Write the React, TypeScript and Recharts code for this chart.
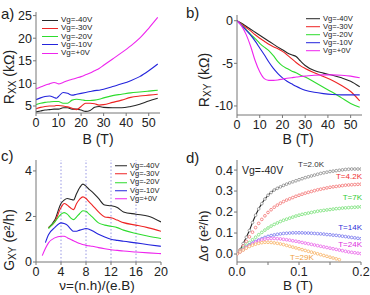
import React from "react";
import { LineChart, Line, XAxis, YAxis, ReferenceLine } from "recharts";

const FONT = "'Liberation Sans', Arial, sans-serif";
const FRAME = "#777";
const TICK = { fontSize: 12.5, fill: "#222", fontFamily: FONT };

const VG_LABELS = ["Vg=-40V", "Vg=-30V", "Vg=-20V", "Vg=-10V", "Vg=+0V"];
const VG_COLORS = ["#262626", "#ee2424", "#2edc2e", "#2424dc", "#ee24ee"];

// a) Rxx vs B
const A_B = [0, 2, 4, 6, 8, 9, 10, 12, 14, 16, 18, 20, 22, 24, 26, 28, 30, 34, 38, 42, 46, 50, 54];
const A_M40 = [3.7, 3.9, 4.1, 4.2, 4.3, 4.3, 4.3, 4.6, 4.6, 4.3, 4.3, 4.1, 3.8, 4.0, 4.7, 4.9, 4.7, 4.6, 4.6, 4.9, 5.4, 6.1, 6.7];
const A_M30 = [4.4, 4.7, 4.9, 5.0, 5.0, 5.1, 5.1, 5.0, 4.8, 4.5, 4.2, 4.9, 5.6, 5.6, 5.5, 5.2, 5.3, 5.8, 6.3, 6.9, 7.2, 7.4, 7.6];
const A_M20 = [5.3, 5.6, 5.8, 5.9, 6.0, 6.0, 6.0, 5.6, 5.6, 6.3, 6.5, 6.4, 6.2, 6.2, 6.3, 6.5, 6.8, 7.3, 7.6, 7.9, 8.1, 8.3, 8.5];
const A_M10 = [6.4, 6.8, 7.1, 7.2, 6.9, 6.7, 7.1, 8.0, 7.8, 7.4, 7.6, 7.8, 8.0, 8.2, 8.4, 8.5, 8.7, 9.3, 9.9, 10.6, 11.5, 12.8, 14.3];
const A_P0 = [8.8, 9.2, 9.6, 9.9, 10.2, 10.1, 9.9, 10.2, 10.6, 10.9, 11.2, 11.5, 11.9, 12.3, 12.8, 13.3, 14.0, 15.4, 16.8, 18.3, 20.0, 22.2, 24.6];

// b) Rxy vs B
const B_B = [0, 2, 4, 6, 8, 10, 12, 14, 16, 18, 20, 22, 24, 26, 28, 30, 34, 38, 42, 46, 50, 54];
const B_M40 = [0, -0.3, -0.65, -1.0, -1.35, -1.7, -2.05, -2.4, -2.75, -3.1, -3.4, -3.75, -4.0, -4.2, -4.75, -5.25, -5.85, -6.15, -6.4, -6.7, -7.1, -7.75];
const B_M30 = [0, -0.4, -0.8, -1.2, -1.65, -2.05, -2.4, -2.75, -3.05, -3.3, -3.6, -4.0, -4.45, -4.9, -5.3, -5.6, -6.1, -6.55, -7.0, -7.6, -8.3, -9.4];
const B_M20 = [0, -0.5, -1.05, -1.6, -2.1, -2.65, -3.1, -3.5, -4.1, -4.8, -5.3, -5.6, -5.9, -6.1, -6.4, -6.6, -7.2, -7.8, -8.4, -9.05, -9.7, -10.15];
const B_M10 = [0, -0.55, -1.1, -1.7, -2.4, -3.2, -4.0, -4.85, -5.6, -6.2, -6.7, -7.1, -7.4, -7.7, -7.95, -8.15, -8.4, -8.55, -8.65, -8.7, -8.7, -8.7];
const B_P0 = [0, -0.6, -1.6, -3.0, -4.7, -6.0, -6.8, -7.0, -7.0, -6.95, -6.85, -6.75, -6.7, -6.6, -6.55, -6.5, -6.4, -6.35, -6.35, -6.4, -6.5, -6.7];

// c) Gxy vs filling factor
const C_NU = [1, 1.5, 2, 3, 4, 4.5, 5, 5.5, 6, 6.5, 7, 7.5, 8, 8.5, 9, 10, 11, 12, 13, 14, 16, 18, 20];
const C_M40 = [null, null, 1.51, 1.84, 2.57, 2.72, 2.79, 2.76, 2.72, 3.01, 3.27, 3.42, 3.33, 3.19, 3.08, 2.79, 2.5, 2.47, 2.39, 2.2, 2.1, 2.01, 1.76];
const C_M30 = [null, null, 1.51, 1.76, 2.39, 2.57, 2.5, 2.38, 2.3, 2.57, 2.76, 2.86, 2.79, 2.64, 2.5, 2.2, 1.98, 1.94, 1.84, 1.73, 1.62, 1.5, 1.35];
const C_M20 = [null, null, 1.47, 1.76, 2.1, 2.17, 2.1, 1.95, 1.86, 1.98, 2.13, 2.25, 2.23, 2.1, 1.98, 1.72, 1.62, 1.57, 1.51, 1.4, 1.25, 1.13, 1.03];
const C_M10 = [null, 0.85, 1.2, 1.51, 1.72, 1.69, 1.62, 1.47, 1.35, 1.35, 1.4, 1.44, 1.47, 1.44, 1.37, 1.22, 1.1, 1.0, 0.95, 0.91, 0.84, 0.76, 0.69];
const C_P0 = [0.28, 0.59, 0.84, 1.06, 1.13, 1.13, 1.07, 1.0, 0.93, 0.87, 0.81, 0.77, 0.73, 0.71, 0.69, 0.63, 0.58, 0.54, 0.51, 0.48, 0.44, 0.4, 0.37];
const C_GUIDES = [4, 8, 12, 16];

// d) magnetoconductance at Vg=-40V
const D_B = [0, 0.005, 0.01, 0.015, 0.02, 0.025, 0.03, 0.035, 0.04, 0.045, 0.05, 0.055, 0.06, 0.065, 0.07, 0.075, 0.08, 0.085, 0.09, 0.095, 0.1, 0.105, 0.11, 0.115, 0.12, 0.125, 0.13, 0.135, 0.14, 0.145, 0.15, 0.155, 0.16, 0.165, 0.17, 0.175, 0.18, 0.185, 0.19, 0.195, 0.2];
const D_T2 = [0, 0.02, 0.05, 0.08, 0.112, 0.15, 0.185, 0.215, 0.24, 0.262, 0.28, 0.293, 0.305, 0.313, 0.32, 0.327, 0.333, 0.339, 0.344, 0.349, 0.354, 0.359, 0.364, 0.368, 0.372, 0.376, 0.38, 0.384, 0.387, 0.39, 0.393, 0.395, 0.397, 0.399, 0.401, 0.403, 0.404, 0.405, 0.405, 0.405, 0.405];
const D_T4 = [0, 0.018, 0.038, 0.06, 0.082, 0.104, 0.126, 0.146, 0.165, 0.182, 0.198, 0.211, 0.223, 0.233, 0.242, 0.25, 0.257, 0.263, 0.269, 0.275, 0.28, 0.285, 0.29, 0.294, 0.298, 0.302, 0.306, 0.309, 0.312, 0.315, 0.318, 0.32, 0.322, 0.324, 0.326, 0.328, 0.329, 0.33, 0.331, 0.332, 0.333];
const D_T7 = [0, 0.013, 0.028, 0.042, 0.055, 0.068, 0.08, 0.092, 0.103, 0.114, 0.124, 0.133, 0.141, 0.148, 0.155, 0.161, 0.166, 0.171, 0.176, 0.181, 0.185, 0.189, 0.192, 0.195, 0.198, 0.201, 0.204, 0.206, 0.208, 0.21, 0.212, 0.214, 0.216, 0.217, 0.219, 0.22, 0.221, 0.222, 0.223, 0.224, 0.225];
const D_T14 = [0, 0.011, 0.022, 0.033, 0.043, 0.052, 0.06, 0.067, 0.073, 0.079, 0.084, 0.088, 0.091, 0.094, 0.096, 0.098, 0.099, 0.1, 0.101, 0.101, 0.101, 0.101, 0.1, 0.1, 0.099, 0.098, 0.097, 0.096, 0.095, 0.093, 0.092, 0.09, 0.089, 0.087, 0.085, 0.083, 0.081, 0.079, 0.077, 0.075, 0.073];
const D_T24 = [0, 0.01, 0.02, 0.03, 0.039, 0.048, 0.056, 0.062, 0.067, 0.071, 0.073, 0.074, 0.074, 0.073, 0.072, 0.07, 0.068, 0.066, 0.063, 0.061, 0.058, 0.055, 0.052, 0.049, 0.046, 0.043, 0.04, 0.037, 0.034, 0.031, 0.028, 0.025, 0.022, 0.019, 0.016, 0.013, 0.01, 0.008, 0.006, 0.004, 0.002];
const D_T29 = [0, 0.01, 0.019, 0.028, 0.036, 0.042, 0.047, 0.051, 0.054, 0.056, 0.056, 0.055, 0.053, 0.051, 0.048, 0.045, 0.041, 0.037, 0.033, 0.029, 0.025, 0.021, 0.017, 0.013, 0.009, 0.005, 0.001, -0.003, -0.007, -0.011, -0.015, -0.019, -0.023, -0.027, null, null, null, null, null, null, null];
const D_FIT_END = 0.085;
const D_LABELS = ["T=2.0K", "T=4.2K", "T=7K", "T=14K", "T=24K", "T=29K"];
const D_DOT_COLORS = ["#8a8a8a", "#f27070", "#74e074", "#7474ee", "#e860e8", "#f8b060"];
const D_TEXT_COLORS = ["#333", "#f03030", "#30cc30", "#3030d8", "#dd30dd", "#f0a040"];

function rows(x: number[], series: (number | null)[][]) {
  return x.map((v, i) => {
    const r: Record<string, number | null> = { x: v };
    series.forEach((s, k) => (r["s" + k] = s[i]));
    return r;
  });
}

const dataA = rows(A_B, [A_M40, A_M30, A_M20, A_M10, A_P0]);
const dataB = rows(B_B, [B_M40, B_M30, B_M20, B_M10, B_P0]);
const dataC = rows(C_NU, [C_M40, C_M30, C_M20, C_M10, C_P0]);
const dataD = rows(D_B, [D_T2, D_T4, D_T7, D_T14, D_T24, D_T29]);
const dataFit = dataD.filter((r) => (r.x as number) <= D_FIT_END + 1e-9);

function frame(xd: [number, number], yd: [number, number]) {
  return [
    <XAxis key="xt" xAxisId="top" orientation="top" type="number" domain={xd} tick={false} tickLine={false} height={0} stroke={FRAME} allowDataOverflow />,
    <YAxis key="yr" yAxisId="right" orientation="right" type="number" domain={yd} tick={false} tickLine={false} width={0} stroke={FRAME} allowDataOverflow />,
  ];
}

function Text({ x, y, children, size = 14, color = "#222", anchor = "left", rotate = false }: any) {
  const tr = rotate
    ? "translate(-50%,-50%) rotate(-90deg)"
    : anchor === "center"
    ? "translate(-50%,-50%)"
    : anchor === "right"
    ? "translate(-100%,-50%)"
    : "translate(0,-50%)";
  return (
    <div style={{ position: "absolute", left: x, top: y, transform: tr, fontSize: size, color, whiteSpace: "nowrap", lineHeight: 1 }}>
      {children}
    </div>
  );
}

function Legend({ x, y, step, size, lineW }: { x: number; y: number; step: number; size: number; lineW: number }) {
  return (
    <>
      {VG_LABELS.map((l, i) => (
        <div key={l} style={{ position: "absolute", left: x, top: y + i * step, transform: "translateY(-50%)", display: "flex", alignItems: "center", fontSize: size, lineHeight: 1, whiteSpace: "nowrap", color: "#222" }}>
          <span style={{ display: "inline-block", width: lineW, height: 1, background: VG_COLORS[i], marginRight: 3 }} />
          {l}
        </div>
      ))}
    </>
  );
}

const sub = (t: string) => <span style={{ fontSize: "0.72em", verticalAlign: "-0.25em" }}>{t}</span>;

export default function App() {
  return (
    <div style={{ position: "fixed", left: 0, top: 0, width: 370, height: 295, background: "#fff", fontFamily: FONT, overflow: "hidden" }}>
      {/* a) */}
      <div style={{ position: "absolute", left: 0, top: 0 }}>
        <LineChart width={185} height={147} data={dataA} margin={{ top: 12, right: 25, bottom: 0, left: 0 }}>
          <XAxis dataKey="x" type="number" domain={[0, 55]} ticks={[0, 10, 20, 30, 40, 50]} tick={TICK} tickSize={3} tickMargin={2} height={34} stroke={FRAME} allowDataOverflow />
          <YAxis type="number" domain={[3.45, 25.8]} ticks={[5, 10, 15, 20, 25]} tick={TICK} tickSize={3} tickMargin={1} width={36} stroke={FRAME} allowDataOverflow />
          {frame([0, 55], [3.45, 25.8])}
          {VG_COLORS.map((c, i) => (
            <Line key={i} dataKey={"s" + i} type="monotone" stroke={c} strokeWidth={1.1} dot={false} isAnimationActive={false} />
          ))}
        </LineChart>
      </div>
      {/* b) */}
      <div style={{ position: "absolute", left: 185, top: 0 }}>
        <LineChart width={185} height={147} data={dataB} margin={{ top: 15, right: 8, bottom: 0, left: 0 }}>
          <XAxis dataKey="x" type="number" domain={[0, 55]} ticks={[0, 10, 20, 30, 40, 50]} tick={TICK} tickSize={3} tickMargin={2} height={32} stroke={FRAME} allowDataOverflow />
          <YAxis type="number" domain={[-11.06, 0.67]} ticks={[-10, -5, 0]} tick={TICK} tickSize={3} tickMargin={1} width={52} stroke={FRAME} allowDataOverflow />
          {frame([0, 55], [-11.06, 0.67])}
          {VG_COLORS.map((c, i) => (
            <Line key={i} dataKey={"s" + i} type="monotone" stroke={c} strokeWidth={1.1} dot={false} isAnimationActive={false} />
          ))}
        </LineChart>
      </div>
      {/* c) */}
      <div style={{ position: "absolute", left: 0, top: 147 }}>
        <LineChart width={185} height={148} data={dataC} margin={{ top: 13, right: 24, bottom: 0, left: 0 }}>
          <XAxis dataKey="x" type="number" domain={[0, 20]} ticks={[0, 4, 8, 12, 16, 20]} tick={TICK} tickSize={3} tickMargin={2} height={33} stroke={FRAME} allowDataOverflow />
          <YAxis type="number" domain={[0, 4.48]} ticks={[0, 2, 4]} tick={TICK} tickSize={3} tickMargin={1} width={36} stroke={FRAME} allowDataOverflow />
          {frame([0, 20], [0, 4.48])}
          {C_GUIDES.map((g) => (
            <ReferenceLine key={g} x={g} stroke="#8c8ce0" strokeDasharray="1.5 2" strokeWidth={0.9} />
          ))}
          {VG_COLORS.map((c, i) => (
            <Line key={i} dataKey={"s" + i} type="monotone" stroke={c} strokeWidth={1.1} dot={false} isAnimationActive={false} />
          ))}
        </LineChart>
      </div>
      {/* d) */}
      <div style={{ position: "absolute", left: 185, top: 147 }}>
        <LineChart width={185} height={148} data={dataD} margin={{ top: 13, right: 9, bottom: 0, left: 0 }}>
          <XAxis
            dataKey="x"
            type="number"
            domain={[0, 0.2]}
            ticks={[0, 0.05, 0.1, 0.15, 0.2]}
            tickFormatter={(v: number) => (Math.round(v * 100) % 10 === 0 ? v.toFixed(1) : "")}
            tick={TICK}
            tickSize={3}
            tickMargin={2}
            height={33}
            stroke={FRAME}
            allowDataOverflow
          />
          <YAxis type="number" domain={[-0.038, 0.448]} ticks={[0, 0.1, 0.2, 0.3, 0.4]} tickFormatter={(v: number) => v.toFixed(1)} tick={TICK} tickSize={3} tickMargin={1} width={52} stroke={FRAME} allowDataOverflow />
          {frame([0, 0.2], [-0.038, 0.448])}
          {D_DOT_COLORS.map((c, i) => (
            <Line
              key={i}
              dataKey={"s" + i}
              type="linear"
              stroke="none"
              dot={{ r: 1.35, fill: "#fff", stroke: c, strokeWidth: 0.8 }}
              activeDot={false}
              isAnimationActive={false}
            />
          ))}
          <Line data={dataFit} dataKey="s0" type="monotone" stroke="#222" strokeWidth={1.1} dot={false} isAnimationActive={false} />
        </LineChart>
      </div>

      {/* panel letters */}
      <Text x={1} y={13} size={15}>a)</Text>
      <Text x={186} y={12} size={15}>b)</Text>
      <Text x={1} y={155} size={15}>c)</Text>
      <Text x={186} y={157} size={15}>d)</Text>

      {/* axis titles */}
      <Text x={98} y={139} size={14} anchor="center">B (T)</Text>
      <Text x={298} y={139} size={14} anchor="center">B (T)</Text>
      <Text x={97} y={286} size={13.5} anchor="center">ν=(n.h)/(e.B)</Text>
      <Text x={298} y={286} size={13.5} anchor="center">B (T)</Text>
      <Text x={10} y={77} size={14} rotate>R{sub("XX")} (kΩ)</Text>
      <Text x={205} y={80} size={14} rotate>R{sub("XY")} (kΩ)</Text>
      <Text x={10} y={240} size={14} rotate>G{sub("XY")} (e²/h)</Text>
      <Text x={203} y={236} size={13} rotate>Δσ (e²/h)</Text>

      {/* legends */}
      <Legend x={42} y={20} step={8.3} size={8} lineW={16} />
      <Legend x={306} y={19} step={7.9} size={7.6} lineW={14} />
      <Legend x={115} y={166} step={8.2} size={7.5} lineW={12} />

      {/* panel d annotations */}
      <Text x={242} y={170} size={10.5}>Vg=-40V</Text>
      <Text x={298} y={165} size={8} color={D_TEXT_COLORS[0]}>{D_LABELS[0]}</Text>
      <Text x={362} y={177} size={8} color={D_TEXT_COLORS[1]} anchor="right">{D_LABELS[1]}</Text>
      <Text x={362} y={198} size={8} color={D_TEXT_COLORS[2]} anchor="right">{D_LABELS[2]}</Text>
      <Text x={362} y={228} size={8} color={D_TEXT_COLORS[3]} anchor="right">{D_LABELS[3]}</Text>
      <Text x={362} y={245} size={8} color={D_TEXT_COLORS[4]} anchor="right">{D_LABELS[4]}</Text>
      <Text x={290} y={258} size={8} color={D_TEXT_COLORS[5]}>{D_LABELS[5]}</Text>
    </div>
  );
}
